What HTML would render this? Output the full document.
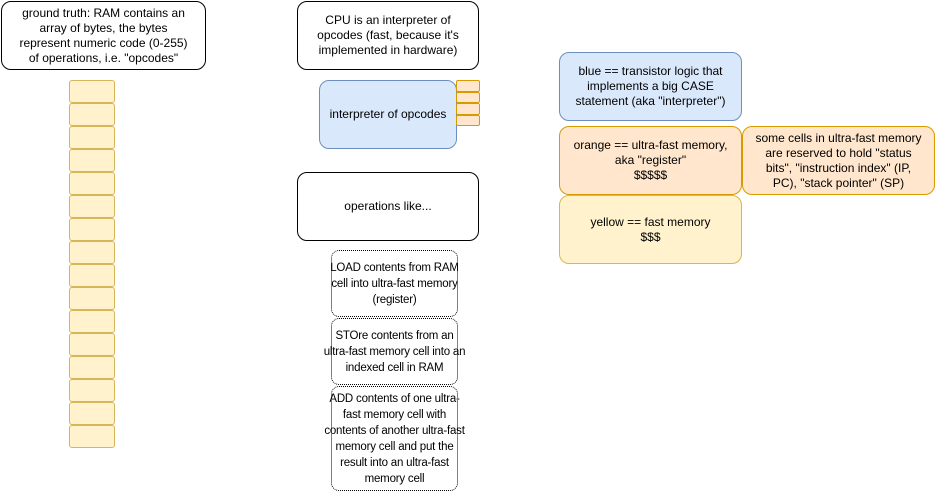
<!DOCTYPE html>
<html><head><meta charset="utf-8"><style>
html,body{margin:0;padding:0;background:#fff;}
body{width:936px;height:492px;position:relative;overflow:hidden;font-family:"Liberation Sans",Arial,sans-serif;font-size:12px;color:#000;}
.b{position:absolute;box-sizing:border-box;display:flex;align-items:center;justify-content:center;text-align:center;line-height:15px;white-space:nowrap;}
.w{background:#fff;border:1px solid #000;border-radius:10px;}
.blue{background:#dae8fc;border:1px solid #6c8ebf;border-radius:10px;}
.or{background:#ffe6cc;border:1px solid #d79b00;border-radius:10px;}
.ye{background:#fff2cc;border:1px solid #d6b656;border-radius:10px;}
.dot{background:#fff;border:1.5px dotted #000;border-radius:8px;font-size:11.5px;letter-spacing:-0.2px;line-height:16px;}
.cell{position:absolute;box-sizing:border-box;background:#fff2cc;border:1px solid #d6b656;border-radius:3px;}
.oc{position:absolute;box-sizing:border-box;background:#ffe6cc;border:1px solid #d79b00;border-radius:2px;}
</style></head><body>
<div class="b w" style="left:1px;top:1px;width:205px;height:69px;">ground truth: RAM contains an<br>array of bytes, the bytes<br>represent numeric code (0-255)<br>of operations, i.e. "opcodes"</div>
<div class="cell" style="left:69px;top:80px;width:46px;height:23px"></div>
<div class="cell" style="left:69px;top:103px;width:46px;height:23px"></div>
<div class="cell" style="left:69px;top:126px;width:46px;height:23px"></div>
<div class="cell" style="left:69px;top:149px;width:46px;height:23px"></div>
<div class="cell" style="left:69px;top:172px;width:46px;height:23px"></div>
<div class="cell" style="left:69px;top:195px;width:46px;height:23px"></div>
<div class="cell" style="left:69px;top:218px;width:46px;height:23px"></div>
<div class="cell" style="left:69px;top:241px;width:46px;height:23px"></div>
<div class="cell" style="left:69px;top:264px;width:46px;height:23px"></div>
<div class="cell" style="left:69px;top:287px;width:46px;height:23px"></div>
<div class="cell" style="left:69px;top:310px;width:46px;height:23px"></div>
<div class="cell" style="left:69px;top:333px;width:46px;height:23px"></div>
<div class="cell" style="left:69px;top:356px;width:46px;height:23px"></div>
<div class="cell" style="left:69px;top:379px;width:46px;height:23px"></div>
<div class="cell" style="left:69px;top:402px;width:46px;height:23px"></div>
<div class="cell" style="left:69px;top:425px;width:46px;height:23px"></div>

<div class="b w" style="left:297px;top:1px;width:182px;height:69px;">CPU is an interpreter of<br>opcodes (fast, because it's<br>implemented in hardware)</div>
<div class="b blue" style="left:319px;top:80px;width:138px;height:69px;">interpreter of opcodes</div>
<div class="oc" style="left:456px;top:80px;width:24px;height:12px"></div>
<div class="oc" style="left:456px;top:92px;width:24px;height:11px"></div>
<div class="oc" style="left:456px;top:103px;width:24px;height:12px"></div>
<div class="oc" style="left:456px;top:115px;width:24px;height:11px"></div>
<div class="b w" style="left:297px;top:172px;width:182px;height:69px;">operations like...</div>

<div class="b dot" style="left:331px;top:250px;width:127px;height:67px;">LOAD contents from RAM<br>cell into ultra-fast memory<br>(register)</div>
<div class="b dot" style="left:331px;top:318px;width:127px;height:67px;">STOre contents from an<br>ultra-fast memory cell into an<br>indexed cell in RAM</div>
<div class="b dot" style="left:331px;top:386px;width:127px;height:105px;">ADD contents of one ultra-<br>fast memory cell with<br>contents of another ultra-fast<br>memory cell and put the<br>result into an ultra-fast<br>memory cell</div>

<div class="b blue" style="left:559px;top:52px;width:183px;height:69px;">blue == transistor logic that<br>implements a big CASE<br>statement (aka "interpreter")</div>
<div class="b or" style="left:559px;top:126px;width:183px;height:69px;">orange == ultra-fast memory,<br>aka "register"<br>$$$$$</div>
<div class="b or" style="left:742px;top:126px;width:193px;height:69px;">some cells in ultra-fast memory<br>are reserved to hold "status<br>bits", "instruction index" (IP,<br>PC), "stack pointer" (SP)</div>
<div class="b ye" style="left:559px;top:195px;width:183px;height:69px;">yellow == fast memory<br>$$$</div>
</body></html>
